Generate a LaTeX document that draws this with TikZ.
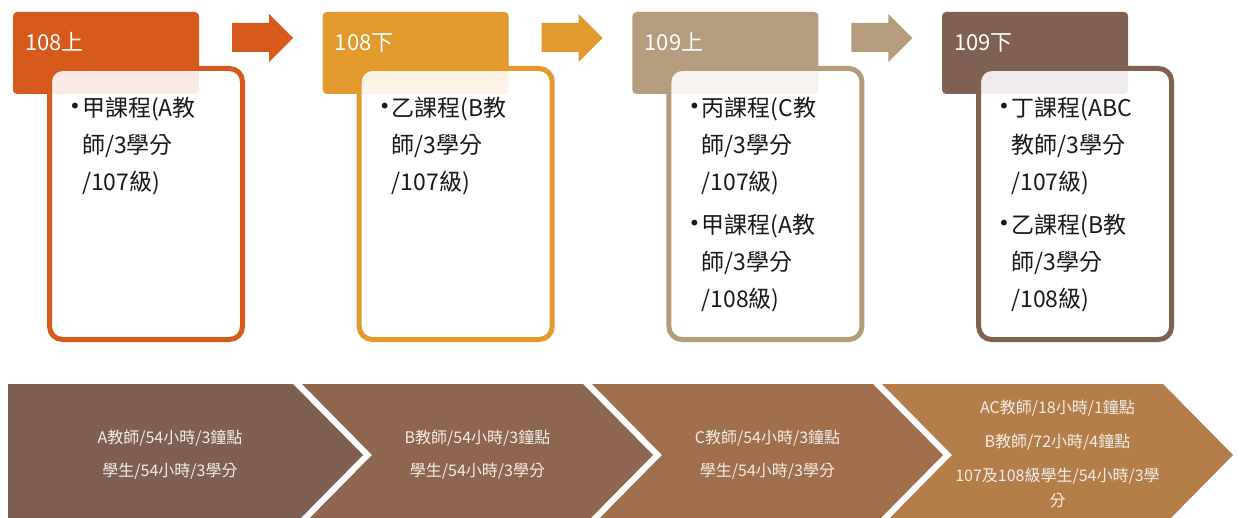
\documentclass[tikz,border=0pt]{standalone}
\usepackage{fontspec}
\setmainfont{Noto Sans CJK TC}
\newfontfamily\bulletfont{DejaVu Sans}
\definecolor{cA}{HTML}{D65A1B}
\definecolor{cB}{HTML}{E19A2B}
\definecolor{cC}{HTML}{B49C7C}
\definecolor{cD}{HTML}{7F6053}
\definecolor{vA}{HTML}{7E5F52}
\definecolor{vB}{HTML}{8E6650}
\definecolor{vC}{HTML}{9F704B}
\definecolor{vD}{HTML}{B37E49}
\definecolor{vtext}{HTML}{F4ECE6}
\definecolor{ink}{HTML}{1A1A1A}
\begin{document}
\begin{tikzpicture}[x=1pt,y=-1pt,
  semlabel/.style={anchor=base west, inner sep=0, text=white, font=\fontsize{22}{26}\selectfont},
  bodytext/.style={anchor=base west, inner sep=0, text=ink, font=\fontsize{23}{30}\selectfont},
  bulletmark/.style={inner sep=0, text=ink, font=\bulletfont\fontsize{20}{22}\selectfont},
  chevtext/.style={anchor=base, inner sep=0, text=vtext, font=\fontsize{16}{18}\selectfont},
  labelbox/.style={rounded corners=4pt},
  coursebox/.style={line width=5pt, fill=white, fill opacity=0.88, rounded corners=13pt},
  ]
\useasboundingbox (0,0) rectangle (1238,518);
% columns
\foreach \i/\col/\lab in {0/cA/108上,1/cB/108下,2/cC/109上,3/cD/109下}{
  \begin{scope}[xshift=\i*309.7pt]
    \fill[\col, labelbox] (13,12) rectangle (199,94);
    \node[semlabel] (lab\i) at (25,51) {\lab};
    \draw[coursebox, draw=\col] (49.5,68.5) rectangle (242.5,339.5);
  \end{scope}
}
% arrows between columns
\foreach \i/\col in {0/cA,1/cB,2/cC}{
  \begin{scope}[xshift=\i*309.7pt]
    \fill[\col] (232,23) -- (269,23) -- (269,14) -- (293,38) -- (269,62) -- (269,52) -- (232,52) -- cycle;
  \end{scope}
}
% column 1
\node[bulletmark] (b1a) at (75,108) {•};
\node[bodytext] (t1a1) at (82,117) {甲課程(A教};
\node[bodytext] (t1a2) at (82,154) {師/3學分};
\node[bodytext] (t1a3) at (82,191) {/107級)};
% column 2
\node[bulletmark] (b2a) at (384.7,108) {•};
\node[bodytext] (t2a1) at (391.7,117) {乙課程(B教};
\node[bodytext] (t2a2) at (391.7,154) {師/3學分};
\node[bodytext] (t2a3) at (391.7,191) {/107級)};
% column 3
\node[bulletmark] (b3a) at (694.4,108) {•};
\node[bodytext] (t3a1) at (701.4,117) {丙課程(C教};
\node[bodytext] (t3a2) at (701.4,154) {師/3學分};
\node[bodytext] (t3a3) at (701.4,191) {/107級)};
\node[bulletmark] (b3b) at (694.4,225) {•};
\node[bodytext] (t3b1) at (701.4,234) {甲課程(A教};
\node[bodytext] (t3b2) at (701.4,271) {師/3學分};
\node[bodytext] (t3b3) at (701.4,307) {/108級)};
% column 4
\node[bulletmark] (b4a) at (1004.1,108) {•};
\node[bodytext] (t4a1) at (1011.1,117) {丁課程(ABC};
\node[bodytext] (t4a2) at (1011.1,154) {教師/3學分};
\node[bodytext] (t4a3) at (1011.1,191) {/107級)};
\node[bulletmark] (b4b) at (1004.1,225) {•};
\node[bodytext] (t4b1) at (1011.1,234) {乙課程(B教};
\node[bodytext] (t4b2) at (1011.1,271) {師/3學分};
\node[bodytext] (t4b3) at (1011.1,307) {/108級)};
% chevrons
\begin{scope}
  \clip (0,0) rectangle (1238,518);
  \fill[vA] (8,384) -- (293,384) -- (363,455) -- (293,526) -- (8,526) -- cycle;
  \fill[vB] (302,384) -- (583,384) -- (653,455) -- (583,526) -- (302,526) -- (372,455) -- cycle;
  \fill[vC] (592,384) -- (873,384) -- (943,455) -- (873,526) -- (592,526) -- (662,455) -- cycle;
  \fill[vD] (882,384) -- (1163,384) -- (1233,455) -- (1163,526) -- (882,526) -- (952,455) -- cycle;
\end{scope}
\node[chevtext] (c1a) at (170,443) {A教師/54小時/3鐘點};
\node[chevtext] (c1b) at (170,476) {學生/54小時/3學分};
\node[chevtext] (c2a) at (477.5,443) {B教師/54小時/3鐘點};
\node[chevtext] (c2b) at (477.5,476) {學生/54小時/3學分};
\node[chevtext] (c3a) at (767.5,443) {C教師/54小時/3鐘點};
\node[chevtext] (c3b) at (767.5,476) {學生/54小時/3學分};
\node[chevtext] (c4a) at (1057.5,413) {AC教師/18小時/1鐘點};
\node[chevtext] (c4b) at (1057.5,447) {B教師/72小時/4鐘點};
\node[chevtext] (c4c) at (1057.5,481) {107及108級學生/54小時/3學};
\node[chevtext] (c4d) at (1057.5,506) {分};
\end{tikzpicture}
\end{document}
